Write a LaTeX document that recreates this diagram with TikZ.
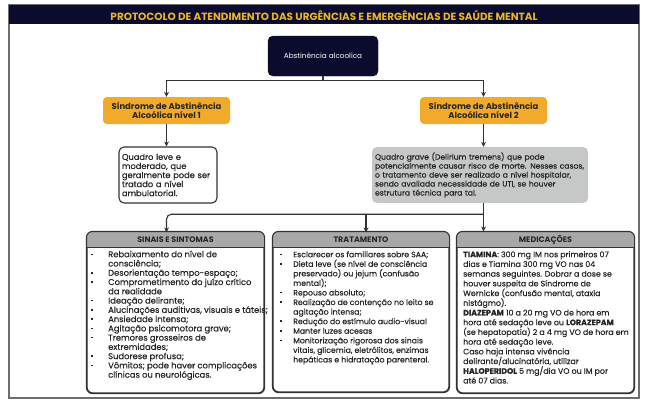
\documentclass[tikz,border=0pt]{standalone}
\usepackage{fontspec}
\setmainfont{Poppins}
\newfontfamily\medf[FakeBold=0.4]{Poppins}
\usetikzlibrary{arrows.meta,calc}
\definecolor{navy}{HTML}{0B0B2D}
\definecolor{gold}{HTML}{E8B528}
\definecolor{orng}{HTML}{F2AA2A}
\definecolor{gbox}{HTML}{C6C8C7}
\definecolor{hgrey}{HTML}{A7A9A8}
\definecolor{bord}{HTML}{333333}
\definecolor{frm}{HTML}{6E6E6E}
\newcommand\bdot{\raisebox{2.2bp}{\rule{1.5bp}{1.5bp}}}
\newcommand\bla{\makebox[17bp][l]{\bdot}}
\newcommand\blb{\makebox[13bp][l]{\bdot}}
\newcommand\inda{\hspace*{17bp}}
\newcommand\indb{\hspace*{13bp}}
\newcommand\fst{\rule{0pt}{8bp}}
\tikzset{
  conn/.style={draw=bord,line width=1.1bp},
  arr/.style={conn,-{Stealth[length=5bp,width=5bp]}},
  orangebox/.style={fill=orng,rounded corners=4bp,minimum width=127bp,minimum height=27bp,align=center,inner sep=0pt,font=\fontsize{8.5}{10}\selectfont\bfseries,text=black!85},
  textbox/.style={rounded corners=5bp,align=left,inner xsep=3bp,inner ysep=0pt,text=black!85},
  listbox/.style={draw=bord,line width=1.1bp,rounded corners=6bp,inner sep=0pt},
  listtext/.style={anchor=north west,align=left,inner sep=0pt,text=black!85},
  headtext/.style={font=\fontsize{8}{9}\selectfont\bfseries,text=black!85}
}
\begin{document}
\begin{tikzpicture}[x=1bp,y=-1bp]
\useasboundingbox (0,0) rectangle (645,401);
\fill[white] (0,0) rectangle (645,401);
% frame and title
\draw[frm,line width=1.3bp] (9,5) rectangle (639,398);
\fill[navy] (9,5) rectangle (639,24);
\node[font=\fontsize{10.5}{11}\selectfont\bfseries,text=gold] (title) at (324,15) {PROTOCOLO DE ATENDIMENTO DAS URGÊNCIAS E EMERGÊNCIAS DE SAÚDE MENTAL};
% main
\node[fill=navy,draw=navy,rounded corners=5bp,minimum width=110bp,minimum height=40bp,text=white,font=\fontsize{7.3}{8}\selectfont] (main) at (323,56) {Abstinência alcoolica};
% orange
\node[orangebox] (l1) at (166.5,110.5) {Síndrome de Abstinência\\Alcoólica nível 1};
\node[orangebox] (l2) at (483.5,110.5) {Síndrome de Abstinência\\Alcoólica nível 2};
% white and grey
\node[textbox,draw=bord,line width=1.1bp,text width=92bp,minimum height=56bp,font=\medf\fontsize{8.3}{9.1}\selectfont] (w) at (168,175)
 {Quadro leve e\\moderado, que\\geralmente pode ser\\tratado a nível\\ambulatorial.};
\node[textbox,fill=gbox,text width=210bp,minimum height=56bp,font=\medf\fontsize{7.7}{9}\selectfont] (g) at (480,175)
 {Quadro grave (Delirium tremens) que pode\\potencialmente causar risco de morte. Nesses casos,\\o tratamento deve ser realizado a nível hospitalar,\\sendo avaliada necessidade de UTI, se houver\\estrutura técnica para tal.};
% bottom boxes
\node[listbox,minimum width=177bp,minimum height=161bp] (s) at (175.5,312.5) {};
\node[listbox,minimum width=176bp,minimum height=160bp] (t) at (361,312) {};
\node[listbox,minimum width=177bp,minimum height=161bp] (m) at (545.5,312.5) {};
\foreach \b in {s,t,m}{
  \begin{scope}
  \clip[rounded corners=6bp] (\b.north west) rectangle (\b.south east);
  \fill[hgrey] (\b.north west) rectangle ($(\b.north east)+(0,16)$);
  \end{scope}
  \draw[bord,line width=1.1bp] ($(\b.north west)+(0,16)$) -- ($(\b.north east)+(0,16)$);
  \draw[bord,line width=1.1bp,rounded corners=6bp] (\b.north west) rectangle (\b.south east);
}
\node[headtext] (sh) at ($(s.north)+(0,8.5)$) {SINAIS E SINTOMAS};
\node[headtext] (th) at ($(t.north)+(0,8.5)$) {TRATAMENTO};
\node[headtext] (mh) at ($(m.north)+(0,8.5)$) {MEDICAÇÕES};
\node[listtext,font=\medf\fontsize{8.4}{9.3}\selectfont] (sl) at (91,249) {%
\fst\bla Rebaixamento do nível de\\
\inda consciência;\\
\bla Desorientação tempo-espaço;\\
\bla Comprometimento do juízo crítico\\
\inda da realidade\\
\bla Ideação delirante;\\
\bla Alucinações auditivas, visuais e táteis;\\
\bla Ansiedade intensa;\\
\bla Agitação psicomotora grave;\\
\bla Tremores grosseiros de\\
\inda extremidades;\\
\bla Sudorese profusa;\\
\bla Vômitos; pode haver complicações\\
\inda clínicas ou neurológicas.};
\node[listtext,font=\medf\fontsize{7.8}{9.6}\selectfont] (tl) at (280,249) {%
\fst\blb Esclarecer os familiares sobre SAA;\\
\blb Dieta leve (se nível de consciência\\
\indb preservado) ou jejum (confusão\\
\indb mental);\\
\blb Repouso absoluto;\\
\blb Realização de contenção no leito se\\
\indb agitação intensa;\\
\blb Redução do estímulo audio-visual\\
\blb Manter luzes acesas\\
\blb Monitorização rigorosa dos sinais\\
\indb vitais, glicemia, eletrólitos, enzimas\\
\indb hepáticas e hidratação parenteral.};
\node[listtext,font=\medf\fontsize{7.9}{9.75}\selectfont] (ml) at (463,249) {%
\fst{\bfseries TIAMINA}: 300 mg IM nos primeiros 07\\
dias e Tiamina 300 mg VO nas 04\\
semanas seguintes. Dobrar a dose se\\
houver suspeita de Síndrome de\\
Wernicke (confusão mental, ataxia\\
nistágmo).\\
{\bfseries DIAZEPAM} 10 a 20 mg VO de hora em\\
hora até sedação leve ou {\bfseries LORAZEPAM}\\
(se hepatopatia) 2 a 4 mg VO de hora em\\
hora até sedação leve.\\
Caso haja intensa vivência\\
delirante/alucinatória, utilizar\\
{\bfseries HALOPERIDOL} 5 mg/dia VO ou IM por\\
até 07 dias.};
% connectors
\draw[conn] (main.south) -- ++(0,4) coordinate (jt);
\draw[arr] (jt) -| (l1.north);
\draw[arr] (jt) -| (l2.north);
\draw[arr] (l1.south) -- (l1.south |- w.north);
\draw[arr] (l2.south) -- (l2.south |- g.north);
\coordinate (j) at ($(l2.south |- g.south)+(0,11)$);
\draw[conn] (l2.south |- g.south) -- (j);
\draw[arr] (j) -- (j |- m.north);
\draw[arr,rounded corners=5bp] (j) -| ([yshift=-1bp]l1.south |- s.north);
\draw[arr] ([xshift=5bp]t.north |- j) -- ([xshift=5bp,yshift=-1bp]t.north);
\end{tikzpicture}
\end{document}
